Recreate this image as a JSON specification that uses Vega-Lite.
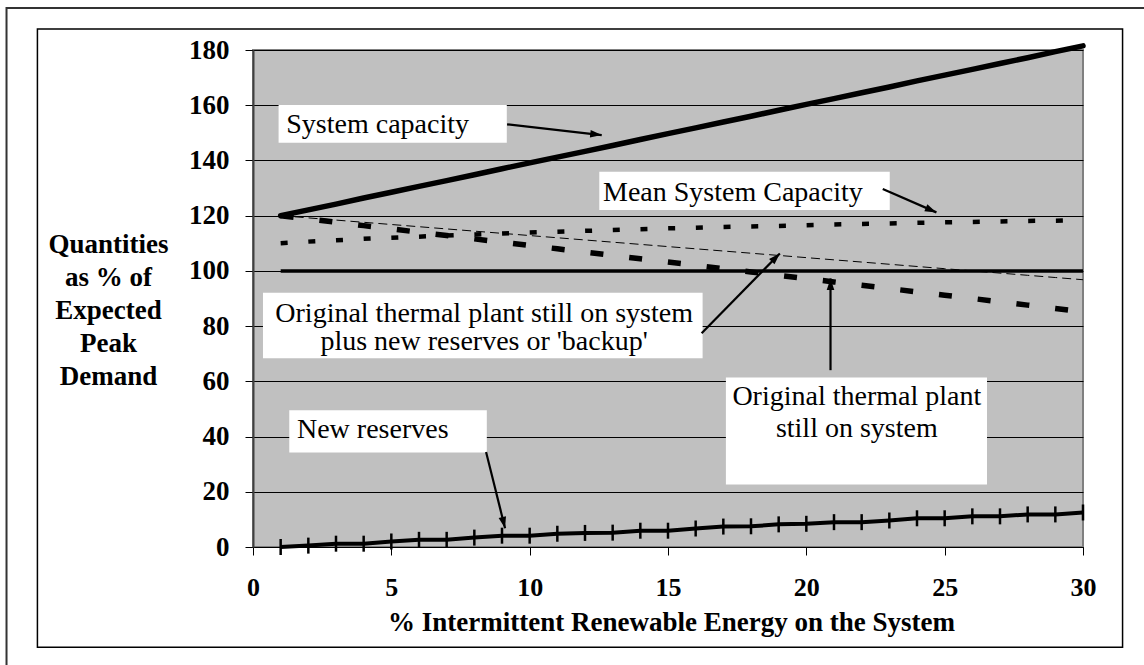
{
  "$schema": "https://vega.github.io/schema/vega-lite/v6.json",
  "autosize": {"type": "none"},
  "width": 830,
  "height": 497,
  "padding": {"left": 253, "top": 50, "right": 61, "bottom": 118},
  "background": "white",
  "config": {
    "view": {"fill": "#C0C0C0", "stroke": "#808080", "strokeWidth": 2},
    "axis": {"labelFont": "Liberation Serif", "labelFontWeight": "bold", "labelColor": "black", "titleFont": "Liberation Serif", "titleFontWeight": "bold", "titleColor": "black", "tickColor": "black", "labelFlush": false}
  },
  "datasets": {
    "series": [
      {"x": 1, "cap": 120, "mean": 110, "orig": 120, "backup": 120, "demand": 100, "res": 0},
      {"x": 2, "cap": 122.1, "mean": 110.6, "orig": 118.8, "backup": 119.2, "demand": 100, "res": 0.5},
      {"x": 3, "cap": 124.2, "mean": 111.1, "orig": 117.6, "backup": 118.4, "demand": 100, "res": 1.2},
      {"x": 4, "cap": 126.4, "mean": 111.6, "orig": 116.4, "backup": 117.6, "demand": 100, "res": 1.2},
      {"x": 5, "cap": 128.5, "mean": 112.0, "orig": 115.2, "backup": 116.8, "demand": 100, "res": 2.0},
      {"x": 6, "cap": 130.6, "mean": 112.4, "orig": 114.0, "backup": 116.0, "demand": 100, "res": 2.6},
      {"x": 7, "cap": 132.7, "mean": 112.8, "orig": 112.8, "backup": 115.2, "demand": 100, "res": 2.6},
      {"x": 8, "cap": 134.8, "mean": 113.2, "orig": 111.6, "backup": 114.4, "demand": 100, "res": 3.4},
      {"x": 9, "cap": 137.0, "mean": 113.5, "orig": 110.4, "backup": 113.6, "demand": 100, "res": 4.1},
      {"x": 10, "cap": 139.1, "mean": 113.9, "orig": 109.2, "backup": 112.8, "demand": 100, "res": 4.1},
      {"x": 11, "cap": 141.2, "mean": 114.2, "orig": 108.0, "backup": 112.0, "demand": 100, "res": 4.8},
      {"x": 12, "cap": 143.3, "mean": 114.5, "orig": 106.8, "backup": 111.2, "demand": 100, "res": 5.1},
      {"x": 13, "cap": 145.4, "mean": 114.8, "orig": 105.6, "backup": 110.4, "demand": 100, "res": 5.2},
      {"x": 14, "cap": 147.6, "mean": 115.1, "orig": 104.4, "backup": 109.6, "demand": 100, "res": 5.9},
      {"x": 15, "cap": 149.7, "mean": 115.4, "orig": 103.2, "backup": 108.8, "demand": 100, "res": 5.9},
      {"x": 16, "cap": 151.8, "mean": 115.6, "orig": 102.0, "backup": 108.0, "demand": 100, "res": 6.7},
      {"x": 17, "cap": 153.9, "mean": 115.9, "orig": 100.8, "backup": 107.2, "demand": 100, "res": 7.4},
      {"x": 18, "cap": 156.0, "mean": 116.1, "orig": 99.6, "backup": 106.4, "demand": 100, "res": 7.5},
      {"x": 19, "cap": 158.2, "mean": 116.3, "orig": 98.4, "backup": 105.6, "demand": 100, "res": 8.2},
      {"x": 20, "cap": 160.3, "mean": 116.5, "orig": 97.2, "backup": 104.8, "demand": 100, "res": 8.4},
      {"x": 21, "cap": 162.4, "mean": 116.8, "orig": 96.0, "backup": 104.0, "demand": 100, "res": 9.0},
      {"x": 22, "cap": 164.5, "mean": 117.0, "orig": 94.8, "backup": 103.2, "demand": 100, "res": 9.0},
      {"x": 23, "cap": 166.6, "mean": 117.2, "orig": 93.6, "backup": 102.4, "demand": 100, "res": 9.6},
      {"x": 24, "cap": 168.8, "mean": 117.4, "orig": 92.4, "backup": 101.6, "demand": 100, "res": 10.4},
      {"x": 25, "cap": 170.9, "mean": 117.6, "orig": 91.2, "backup": 100.8, "demand": 100, "res": 10.4},
      {"x": 26, "cap": 173.0, "mean": 117.7, "orig": 90.0, "backup": 100.0, "demand": 100, "res": 11.1},
      {"x": 27, "cap": 175.1, "mean": 117.9, "orig": 88.8, "backup": 99.2, "demand": 100, "res": 11.1},
      {"x": 28, "cap": 177.2, "mean": 118.1, "orig": 87.6, "backup": 98.4, "demand": 100, "res": 11.8},
      {"x": 29, "cap": 179.4, "mean": 118.2, "orig": 86.4, "backup": 97.6, "demand": 100, "res": 11.8},
      {"x": 30, "cap": 181.5, "mean": 118.4, "orig": 85.2, "backup": 96.8, "demand": 100, "res": 12.5}
    ],
    "boxes": [
      {"label": "System capacity", "x": 0.925, "x2": 9.173, "y": 160.07, "y2": 146.41},
      {"label": "Mean System Capacity", "x": 12.517, "x2": 23.015, "y": 135.9, "y2": 122.02},
      {"label": "Original+backup", "x": 0.361, "x2": 16.251, "y": 92.05, "y2": 68.4},
      {"label": "Original thermal", "x": 17.093, "x2": 26.53, "y": 61.39, "y2": 22.61},
      {"label": "New reserves", "x": 1.311, "x2": 8.451, "y": 49.54, "y2": 34.21}
    ],
    "texts": [
      {"id": "a", "t": "System capacity", "x": 1.203, "y": 149.82},
      {"id": "a", "t": "Mean System Capacity", "x": 12.651, "y": 125.39},
      {"id": "a", "t": "New  reserves", "x": 1.589, "y": 39.5},
      {"id": "b", "t": "Original thermal plant still on system\nplus new reserves or 'backup'", "x": 8.353, "y": 81.54},
      {"id": "c", "t": "Original thermal plant\nstill on system", "x": 21.824, "y": 51.35}
    ],
    "arrows": [
      {"x": 9.184, "y": 153.08, "x2": 12.604, "y2": 149.2},
      {"x": 22.763, "y": 129.63, "x2": 24.702, "y2": 121.19},
      {"x": 16.215, "y": 77.45, "x2": 19.043, "y2": 106.33},
      {"x": 20.874, "y": 64.04, "x2": 20.874, "y2": 97.27},
      {"x": 8.425, "y": 34.43, "x2": 9.111, "y2": 6.78}
    ],
    "frames": [
      {"f": "outer", "x": -8.909, "x2": 32.3, "y": 195.22, "y2": -44.5},
      {"f": "inner", "x": -7.792, "x2": 31.43, "y": 187.61, "y2": -36.35}
    ]
  },
  "layer": [
    {
      "data": {"name": "frames"},
      "transform": [{"filter": "datum.f == 'outer'"}],
      "mark": {"type": "rect", "fill": null, "stroke": "#333333", "strokeWidth": 2},
      "encoding": {
        "x": {"field": "x", "type": "quantitative", "scale": {"domain": [0, 30], "nice": false}, "axis": {"values": [0, 5, 10, 15, 20, 25, 30], "grid": false, "tickSize": 8, "labelFontSize": 26, "labelPadding": 40, "labelBaseline": "alphabetic", "domain": true, "domainColor": "black", "title": "% Intermittent Renewable Energy on the System", "titleFontSize": 27, "titleX": 418, "titleY": 83, "titleBaseline": "alphabetic", "titleAnchor": "middle", "titleAlign": "center"}},
        "x2": {"field": "x2"},
        "y": {"field": "y", "type": "quantitative", "scale": {"domain": [0, 180], "nice": false}, "axis": {"values": [0, 20, 40, 60, 80, 100, 120, 140, 160, 180], "grid": true, "gridColor": "black", "gridWidth": 1, "gridOpacity": 1, "tickSize": 8, "labelFontSize": 27, "labelPadding": 16, "domainColor": "#404040", "domainWidth": 2, "title": ["Quantities", "as % of", "Expected", "Peak", "Demand"], "titleFontSize": 27, "titleAngle": 0, "titleAlign": "center", "titleBaseline": "alphabetic", "titleX": -145, "titleY": 202, "titleLineHeight": 33}},
        "y2": {"field": "y2"}
      }
    },
    {
      "data": {"name": "frames"},
      "transform": [{"filter": "datum.f == 'inner'"}],
      "mark": {"type": "rect", "fill": null, "stroke": "black", "strokeWidth": 1.5},
      "encoding": {
        "x": {"field": "x", "type": "quantitative"},
        "x2": {"field": "x2"},
        "y": {"field": "y", "type": "quantitative"},
        "y2": {"field": "y2"}
      }
    },
    {
      "data": {"name": "series"},
      "mark": {"type": "line", "color": "black", "strokeWidth": 3.5},
      "encoding": {"x": {"field": "x", "type": "quantitative"}, "y": {"field": "demand", "type": "quantitative"}}
    },
    {
      "data": {"name": "series"},
      "mark": {"type": "line", "color": "black", "strokeWidth": 1, "strokeDash": [9, 5]},
      "encoding": {"x": {"field": "x", "type": "quantitative"}, "y": {"field": "backup", "type": "quantitative"}}
    },
    {
      "data": {"name": "series"},
      "mark": {"type": "line", "color": "black", "strokeWidth": 5.5, "strokeDash": [13, 26]},
      "encoding": {"x": {"field": "x", "type": "quantitative"}, "y": {"field": "orig", "type": "quantitative"}}
    },
    {
      "data": {"name": "series"},
      "mark": {"type": "line", "color": "black", "strokeWidth": 4.5, "strokeDash": [7, 20.7]},
      "encoding": {"x": {"field": "x", "type": "quantitative"}, "y": {"field": "mean", "type": "quantitative"}}
    },
    {
      "data": {"name": "series"},
      "mark": {"type": "line", "color": "black", "strokeWidth": 5.5, "strokeCap": "round"},
      "encoding": {"x": {"field": "x", "type": "quantitative"}, "y": {"field": "cap", "type": "quantitative"}}
    },
    {
      "data": {"name": "series"},
      "mark": {"type": "line", "color": "black", "strokeWidth": 4},
      "encoding": {"x": {"field": "x", "type": "quantitative"}, "y": {"field": "res", "type": "quantitative"}}
    },
    {
      "data": {"name": "series"},
      "mark": {"type": "tick", "orient": "vertical", "color": "black", "size": 16, "thickness": 2.5, "opacity": 1},
      "encoding": {"x": {"field": "x", "type": "quantitative"}, "y": {"field": "res", "type": "quantitative"}}
    },
    {
      "data": {"name": "boxes"},
      "mark": {"type": "rect", "fill": "white", "stroke": null},
      "encoding": {
        "x": {"field": "x", "type": "quantitative"},
        "x2": {"field": "x2"},
        "y": {"field": "y", "type": "quantitative"},
        "y2": {"field": "y2"}
      }
    },
    {
      "data": {"name": "texts"},
      "transform": [{"filter": "datum.id == 'a'"}],
      "mark": {"type": "text", "font": "Liberation Serif", "fontSize": 28, "color": "black", "align": "left", "baseline": "alphabetic"},
      "encoding": {"x": {"field": "x", "type": "quantitative"}, "y": {"field": "y", "type": "quantitative"}, "text": {"field": "t"}}
    },
    {
      "data": {"name": "texts"},
      "transform": [{"filter": "datum.id == 'b'"}],
      "mark": {"type": "text", "font": "Liberation Serif", "fontSize": 28, "color": "black", "align": "center", "baseline": "alphabetic", "lineBreak": "\n", "lineHeight": 28},
      "encoding": {"x": {"field": "x", "type": "quantitative"}, "y": {"field": "y", "type": "quantitative"}, "text": {"field": "t"}}
    },
    {
      "data": {"name": "texts"},
      "transform": [{"filter": "datum.id == 'c'"}],
      "mark": {"type": "text", "font": "Liberation Serif", "fontSize": 28, "color": "black", "align": "center", "baseline": "alphabetic", "lineBreak": "\n", "lineHeight": 31.5},
      "encoding": {"x": {"field": "x", "type": "quantitative"}, "y": {"field": "y", "type": "quantitative"}, "text": {"field": "t"}}
    },
    {
      "data": {"name": "arrows"},
      "mark": {"type": "rule", "color": "black", "strokeWidth": 2.2},
      "encoding": {
        "x": {"field": "x", "type": "quantitative"},
        "y": {"field": "y", "type": "quantitative"},
        "x2": {"field": "x2"},
        "y2": {"field": "y2"}
      }
    },
    {
      "data": {"name": "arrows"},
      "transform": [{"calculate": "atan2((datum.x2 - datum.x) * width / 30, (datum.y2 - datum.y) * height / 180) * 180 / PI", "as": "ang"}],
      "mark": {"type": "point", "shape": "M0,0L-0.38,1.15L0.38,1.15Z", "size": 400, "filled": true, "color": "black", "opacity": 1, "strokeWidth": 0},
      "encoding": {
        "x": {"field": "x2", "type": "quantitative"},
        "y": {"field": "y2", "type": "quantitative"},
        "angle": {"field": "ang", "type": "quantitative", "scale": null}
      }
    }
  ]
}
